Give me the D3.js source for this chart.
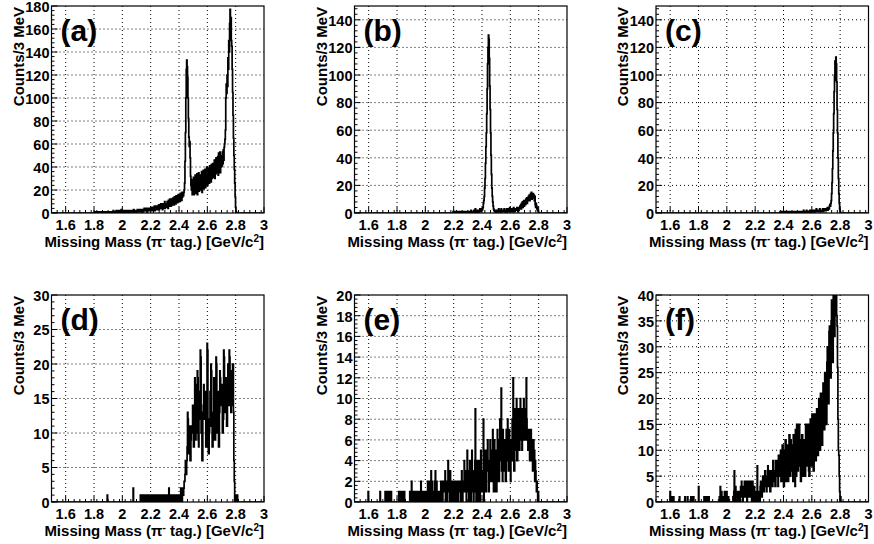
<!DOCTYPE html>
<html><head><meta charset="utf-8">
<script src="https://cdn.jsdelivr.net/npm/d3@7"></script>
<style>
body{margin:0;background:#fff}
text{font-family:"Liberation Sans",Arial,Helvetica,sans-serif;font-weight:bold;fill:#000}
</style>
</head><body>
<svg id="chart" width="874" height="544"></svg>
<script>
// ---------------- data ----------------
const binLow = 1.5, binHigh = 3.0, binWidth = 0.003;
const xTickValues = [1.6, 1.8, 2.0, 2.2, 2.4, 2.6, 2.8, 3.0];
const xTickLabels = ["1.6", "1.8", "2", "2.2", "2.4", "2.6", "2.8", "3"];
const panelLabels = ["(a)", "(b)", "(c)", "(d)", "(e)", "(f)"];
const yMaxes = [180, 150, 150, 30, 20, 40];
const yMajorSteps = [20, 20, 20, 5, 2, 5];
const firstMasses = [1.80, 2.19, 2.37, 1.89, 1.59, 1.59];

const countsA = [
0,1,0,0,1,0,0,1,0,0, 0,0,1,0,0,0,1,0,0,1, 0,1,0,0,0,1,0,0,1,0, 1,0,0,1,0,0,0,1,0,0,
0,1,1,0,0,2,0,1,0,1, 1,0,2,1,0,1,2,0,1,0, 2,1,0,1,3,1,0,2,1,1, 1,2,0,1,1,2,1,0,2,1,
1,0,2,1,1,0,1,2,1,1, 2,1,1,3,0,2,1,1,2,1, 1,2,3,1,2,1,2,3,1,2, 2,3,1,2,2,3,1,2,4,2,
2,3,2,4,1,3,2,3,4,2, 3,2,4,3,5,2,3,4,2,5, 4,3,6,2,5,4,3,6,5,3, 5,4,7,3,6,5,4,8,5,6,
6,3,8,4,7,6,10,4,7,8, 7,5,10,8,4,11,7,8,12,6, 9,6,12,7,10,13,8,11,7,14, 9,13,8,15,10,14,9,12,16,10,
12,15,10,17,13,16,11,18,14,17, 15,18,20,26,45,70,100,125,133,127, 118,100,82,66,58,62,48,32,24,20,
28,16,29,18,31,16,27,19,33,17, 29,18,34,16,30,21,35,19,32,22, 20,33,23,36,18,33,24,37,21,34,
25,38,22,35,26,40,27,24,39,28, 35,26,41,28,38,27,42,30,39,43, 31,43,33,46,30,44,34,48,35,45,
36,49,33,52,38,47,53,35,50,40, 50,41,53,43,55,46,57,60,64,72, 100,112,104,120,110,135,125,150,140,165,
177,160,170,150,145,125,105,85,65,50, 38,26,14,5,1
];
const countsB = [
0,0,1,0,0,0,0,1,0,0, 0,1,0,0,1,0,0,0,1,0, 1,0,0,1,0,1,0,0,1,0, 0,1,0,1,0,0,1,0,1,1,
1,0,1,0,2,1,0,1,0,1, 1,2,0,1,3,1,2,0,1,2, 1,0,2,1,1,3,2,1,2,3, 2,3,4,7,9,12,18,25,36,48,
58,72,90,108,120,129,126,112,92,75, 58,42,28,18,12,8,5,3,2,1, 1,2,0,1,2,1,0,2,1,3,
1,2,1,0,2,3,1,2,1,2, 2,1,3,1,2,0,2,1,3,2, 1,3,2,1,2,4,1,2,3,1, 2,3,1,2,4,2,3,1,2,3,
3,2,4,3,1,3,2,4,3,5, 4,6,3,7,5,8,4,6,9,5, 7,9,6,10,8,11,7,10,9,12, 10,13,9,12,14,11,15,10,13,12,
14,11,13,9,12,6,4,7,5,3, 4,2,1,0
];
const countsC = [
0,0,1,0,0,0,1,0,0,0, 0,1,0,0,1,0,0,1,0,1, 0,0,1,0,1,0,1,0,0,1, 1,0,1,0,0,1,1,0,1,0,
0,1,0,1,1,0,1,0,1,1, 1,0,1,1,0,1,0,2,1,0, 1,1,0,1,2,0,1,1,0,1, 1,0,2,1,1,0,1,2,1,1,
2,1,0,1,2,1,1,3,1,2, 1,2,1,2,1,3,2,1,2,1, 2,1,3,2,1,2,3,2,2,3, 3,2,3,4,2,3,4,3,5,6,
5,7,9,14,22,32,45,58,72,88, 100,110,96,113,108,95,75,58,40,25, 14,7,3,1,0
];
const countsD = [
0,1,0,0,0,0,0,0,0,0, 0,0,0,0,0,0,0,0,0,0, 0,0,0,0,0,0,0,0,0,0, 0,0,0,0,0,0,0,0,0,0,
0,0,0,0,0,0,0,0,0,0, 0,0,0,0,0,0,0,0,0,0, 0,0,2,0,0,0,0,0,0,0, 0,0,0,0,0,0,0,0,0,1,
1,0,0,1,1,0,0,1,1,0, 1,1,0,0,1,1,0,1,1,0, 0,1,1,0,1,1,0,0,1,1, 1,0,0,1,1,0,1,1,0,1,
1,1,0,0,1,1,0,1,1,0, 0,1,1,0,1,1,0,1,1,0, 1,1,0,1,1,0,2,1,0,1, 1,0,1,1,0,1,1,0,0,0,
1,0,0,1,0,1,0,0,1,0, 0,1,0,0,2,0,1,0,1,2, 1,2,3,3,4,6,5,4,6,8, 13,12,7,7,10,11,6,6,9,11,
10,10,14,13,8,8,11,18,17,9, 10,15,15,19,18,9,8,12,12,16, 22,21,10,11,6,6,13,14,17,12,
12,15,16,8,8,11,23,22,12,7, 7,10,11,16,15,20,19,11,8,8, 12,13,18,17,9,9,14,21,20,11,
10,16,15,8,8,13,19,18,14,14, 17,16,10,10,12,22,21,15,15,13, 17,18,11,11,16,20,14,14,22,21,
16,16,13,19,18,14,20,20,13,6, 3,0,0,1,1,0,1,1,0,0
];
const countsE = [
0,0,1,0,0,0,0,0,0,0, 0,0,0,0,0,0,0,0,0,0, 0,0,0,0,0,0,0,0,0,0, 1,0,0,0,0,0,0,0,0,0,
0,0,1,0,1,0,1,1,0,1, 0,1,0,1,0,0,1,0,0,0, 0,0,0,0,0,0,0,0,0,0, 0,0,0,0,1,0,1,0,0,1,
0,1,0,0,1,0,0,1,0,0, 0,0,0,0,0,0,0,0,0,0, 1,0,0,0,2,1,0,1,0,0, 1,0,0,1,0,0,1,0,0,1,
0,1,0,0,1,0,2,0,1,1, 0,1,0,1,1,0,1,0,1,0, 1,0,2,0,1,1,2,1,0,1, 3,0,1,2,0,1,0,1,0,2,
3,1,0,2,0,1,0,0,1,0, 1,0,0,2,1,0,1,0,2,1, 1,2,1,3,0,2,1,0,2,1, 4,2,1,0,2,3,1,2,0,2,
2,1,2,0,2,2,1,2,0,2, 1,2,2,0,1,2,2,1,2,0, 2,1,3,2,0,2,1,2,4,2, 1,2,3,0,2,5,1,3,2,0,
2,4,1,3,0,2,5,1,3,2, 0,3,1,4,9,2,0,3,1,4, 2,0,4,1,3,0,2,5,1,3, 2,3,1,8,0,4,2,1,5,3,
1,4,4,6,3,3,1,4,2,6, 3,5,5,2,2,7,4,1,1,6, 3,3,5,1,1,4,7,2,2,6, 2,5,8,4,4,11,3,3,2,7,
4,6,6,3,5,2,2,7,4,4, 8,6,3,3,7,5,5,2,6,4, 4,8,5,12,5,3,3,8,9,5, 6,10,4,4,8,6,9,9,5,7,
10,6,8,8,5,9,7,7,10,6, 8,6,9,7,12,8,6,7,5,6, 5,7,4,6,5,7,4,6,5,3, 4,6,3,5,2,4,3,2,1,2,
1,0,1,0,0
];
const countsF = [
0,0,0,2,1,0,1,0,0,1, 0,1,0,0,0,0,0,0,0,0, 0,0,0,0,0,1,0,0,0,0, 0,0,0,0,0,0,0,0,1,0,
0,0,0,0,1,0,0,0,0,0, 0,0,1,0,1,0,0,0,1,0, 0,0,0,0,0,0,0,0,0,0, 3,0,0,0,0,0,0,0,0,0,
0,0,0,1,0,1,0,1,0,0, 1,0,1,0,1,0,0,0,0,0, 0,0,0,0,0,0,0,0,0,0, 0,0,0,0,0,0,0,0,0,1,
1,3,0,1,2,1,0,1,1,0, 1,2,0,1,0,1,2,0,1,0, 1,0,0,0,0,0,0,0,0,0, 0,1,0,2,6,1,0,3,1,0,
1,2,0,1,0,2,1,0,1,3, 2,4,1,3,0,2,3,1,4,2, 1,3,2,4,0,3,1,2,4,1, 3,2,4,1,3,0,2,4,1,2,
0,3,1,0,1,0,2,1,7,0, 1,2,2,0,0,3,4,2,2,1, 3,5,5,2,2,4,6,6,3,3, 2,5,5,7,3,3,6,6,2,2,
4,6,6,3,3,8,8,4,6,6, 3,3,8,8,5,7,7,3,9,9, 5,5,9,10,4,4,8,11,11,6, 3,3,9,10,12,12,4,4,11,10,
4,4,10,13,13,5,5,12,7,6, 11,11,4,13,13,7,7,3,14,14, 5,15,15,6,6,11,15,15,7,7, 4,4,12,13,13,5,5,11,12,12,
5,5,15,15,7,7,13,15,15,6, 5,5,13,16,16,7,7,17,17,10, 6,6,15,17,17,8,8,16,18,18, 9,9,18,20,20,10,10,21,21,13,
11,11,21,23,23,14,14,25,22,22, 15,15,27,30,30,19,19,33,34,34, 24,24,35,39,39,27,27,42,42,33,
32,45,45,36,42,36,34,26,16,10, 9,5,2,0,1,0
];
const allCounts = [countsA, countsB, countsC, countsD, countsE, countsF];

// ---------------- layout ----------------
const colLefts = [51.5, 354.5, 656];
const rowTops = [6, 295];
const frameW = 212.5, frameH = 207;

const svg = d3.select("#chart");
const nBins = Math.round((binHigh - binLow) / binWidth);

function fullBins(firstMass, counts) {
  const start = Math.round((firstMass - binLow) / binWidth);
  return d3.range(nBins).map(i => ({
    x0: binLow + i * binWidth,
    y: (i >= start && i - start < counts.length) ? counts[i - start] : 0
  }));
}

allCounts.forEach((counts, p) => {
  const col = p % 3, row = Math.floor(p / 3);
  const left = colLefts[col], top = rowTops[row];
  const g = svg.append("g").attr("transform", `translate(${left},${top})`);
  const x = d3.scaleLinear().domain([binLow, binHigh]).range([0, frameW]);
  const y = d3.scaleLinear().domain([0, yMaxes[p]]).range([frameH, 0]);
  const yStep = yMajorSteps[p];
  const yTicks = d3.range(0, yMaxes[p] + 1e-9, yStep);

  // grid
  const grid = g.append("g").attr("stroke", "#000").attr("stroke-width", 1)
    .attr("stroke-dasharray", "1,3");
  xTickValues.filter(v => v < binHigh - 1e-9).forEach(v => {
    grid.append("line").attr("x1", x(v)).attr("x2", x(v)).attr("y1", 0).attr("y2", frameH);
  });
  yTicks.filter(v => v > 0 && v < yMaxes[p] - 1e-9).forEach(v => {
    grid.append("line").attr("x1", 0).attr("x2", frameW).attr("y1", y(v)).attr("y2", y(v));
  });

  // histogram
  const clipId = "clip" + p;
  g.append("clipPath").attr("id", clipId).append("rect")
    .attr("x", 0).attr("y", 0).attr("width", frameW).attr("height", frameH);
  const bins = fullBins(firstMasses[p], counts);
  const pts = bins.map(b => [b.x0, b.y]);
  pts.push([binHigh, bins[bins.length - 1].y]);
  const line = d3.line().x(d => x(d[0])).y(d => y(d[1])).curve(d3.curveStepAfter);
  g.append("path").attr("d", line(pts)).attr("fill", "none")
    .attr("stroke", "#000").attr("stroke-width", 1.7)
    .attr("clip-path", `url(#${clipId})`);

  // ticks (inside)
  const tk = g.append("g").attr("stroke", "#000").attr("stroke-width", 1);
  d3.range(binLow, binHigh + 1e-9, 0.04).forEach(v => {
    tk.append("line").attr("x1", x(v)).attr("x2", x(v)).attr("y1", frameH).attr("y2", frameH - 3);
  });
  xTickValues.forEach(v => {
    tk.append("line").attr("x1", x(v)).attr("x2", x(v)).attr("y1", frameH).attr("y2", frameH - 6);
  });
  d3.range(0, yMaxes[p] + 1e-9, yStep / 5).forEach(v => {
    const major = Math.abs(v / yStep - Math.round(v / yStep)) < 1e-6;
    tk.append("line").attr("x1", 0).attr("x2", major ? 6 : 3).attr("y1", y(v)).attr("y2", y(v));
  });

  // frame
  g.append("rect").attr("x", 0).attr("y", 0).attr("width", frameW).attr("height", frameH)
    .attr("fill", "none").attr("stroke", "#000").attr("stroke-width", 1.2);

  // x tick labels
  xTickValues.forEach((v, i) => {
    g.append("text").attr("x", x(v)).attr("y", frameH + 17).attr("text-anchor", "middle")
      .attr("font-size", 14.5).text(xTickLabels[i]);
  });
  // y tick labels
  yTicks.forEach(v => {
    g.append("text").attr("x", -2).attr("y", y(v)).attr("dy", "0.4em").attr("text-anchor", "end")
      .attr("font-size", 14.5).text(d3.format("d")(v));
  });

  // x title
  const xt = g.append("text").attr("x", frameW).attr("y", frameH + 33.5)
    .attr("text-anchor", "end").attr("font-size", 15);
  xt.append("tspan").text("Missing Mass (\u03C0");
  xt.append("tspan").attr("dy", -5).attr("font-size", 10).text("-");
  xt.append("tspan").attr("dy", 5).text(" tag.) [GeV/c");
  xt.append("tspan").attr("dy", -5).attr("font-size", 10).text("2");
  xt.append("tspan").attr("dy", 5).text("]");

  // y title
  g.append("text").attr("transform", `translate(-28,1) rotate(-90)`)
    .attr("text-anchor", "end").attr("font-size", 15).text("Counts/3 MeV");

  // panel label
  g.append("text").attr("x", 9).attr("y", 35).attr("font-size", 30).text(panelLabels[p]);
});
</script>
</body></html>
